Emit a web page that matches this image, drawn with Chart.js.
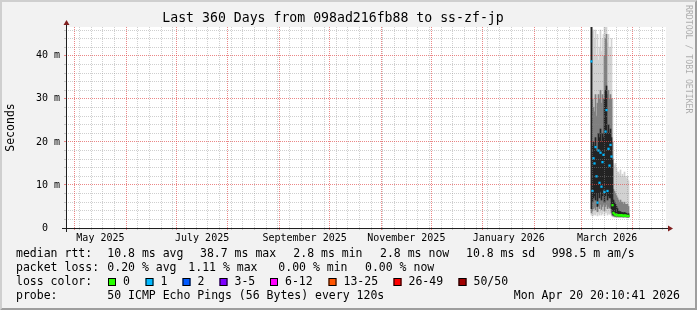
<!DOCTYPE html>
<html>
<head>
<meta charset="utf-8">
<title>Last 360 Days from 098ad216fb88 to ss-zf-jp</title>
<script src="https://cdn.jsdelivr.net/npm/chart.js@4.4.1/dist/chart.umd.min.js"></script>
<style>
  html, body { margin: 0; padding: 0; background: #f2f2f2; overflow: hidden; }
  canvas { display: block; }
</style>
</head>
<body>
<canvas id="smoke" width="697" height="310"></canvas>
<script>
// sample times, in days since the graph start (Apr 25 2025 20:10:41), one rrd row each
const sampleDays = [315.3, 315.9, 316.5, 317.1, 317.7, 318.3, 318.9, 319.5, 320.1, 320.7,
  321.3, 321.9, 322.5, 323.1, 323.7, 324.3, 324.9, 325.5, 326.1, 326.7,
  327.3, 327.9, 328.5, 329.1, 329.7, 330.3, 330.9, 331.5, 332.1, 332.7,
  333.3, 333.9, 334.5, 335.1, 335.7, 336.3, 336.9, 337.5];

// median rtt in ms and lost pings (of 50) per row
const medianRtt = [38.7, 8.6, 16.2, 15.0, 18.8, 12.0, 5.9, 18.0, 10.5, 17.5,
  9.6, 15.3, 17.0, 8.4, 22.4, 27.4, 8.6, 18.4, 14.5, 19.3,
  16.6, 5.3, 3.5, 3.2, 3.0, 3.1, 3.0, 2.9, 3.0, 2.9,
  3.0, 2.9, 2.8, 2.9, 2.9, 2.8, 2.8, 2.8];
const lostPings = [1, 1, 1, 1, 1, 1, 1, 1, 1, 1,
  1, 1, 1, 1, 1, 1, 1, 1, 1, 1,
  1, 0, 0, 0, 0, 0, 0, 0, 0, 0,
  0, 0, 0, 0, 0, 0, 0, 0];

// smoke: spread of the 50 pings (ms), outer / middle / core bands
const outerLo = [3.0, 2.8, 3.0, 3.2, 3.0, 3.5, 2.8, 3.4, 3.0, 3.6,
  3.0, 3.3, 3.8, 2.9, 3.5, 3.6, 3.0, 3.4, 3.2, 3.3,
  2.9, 2.6, 2.6, 2.5, 2.5, 2.5, 2.5, 2.4, 2.4, 2.4,
  2.5, 2.4, 2.4, 2.4, 2.4, 2.4, 2.4, 2.4];
const outerHi = [47, 46, 46, 44, 46, 40, 45, 39, 42, 46,
  41, 44, 45, 47, 47, 47, 43, 45, 42, 42,
  44, 30, 15, 14.5, 15, 14, 13, 13, 12.5, 13.5,
  12, 12.5, 12, 13, 12, 11.5, 12, 11];
const midLo = [3.5, 4.0, 4.5, 4.8, 4.2, 5.0, 3.8, 5.2, 4.5, 5.5,
  4.3, 5.0, 5.5, 4.0, 5.0, 5.5, 4.5, 5.0, 4.6, 4.8,
  3.6, 2.9, 2.8, 2.7, 2.7, 2.7, 2.6, 2.6, 2.6, 2.6,
  2.6, 2.6, 2.5, 2.6, 2.6, 2.5, 2.5, 2.5];
const midHi = [47, 30, 28, 27, 31, 26, 29, 31, 30, 32,
  29, 31, 30, 40, 44, 45, 31, 32, 30, 31,
  30, 20, 9, 8.5, 8, 7.5, 7, 6.5, 6, 6.5,
  6, 6, 5.5, 6, 5.5, 5.5, 5.5, 5];
const coreLo = [4.5, 6.0, 7.0, 7.5, 6.5, 8.0, 5.0, 8.0, 7.0, 8.5,
  6.5, 7.5, 9.0, 6.0, 7.5, 8.0, 6.5, 7.5, 7.0, 7.0,
  4.5, 3.2, 3.0, 2.9, 2.8, 2.9, 2.8, 2.8, 2.8, 2.7,
  2.8, 2.7, 2.7, 2.7, 2.7, 2.7, 2.6, 2.6];
const coreHi = [47, 19, 20, 19, 21, 18, 18, 22, 21, 23,
  20, 22, 21, 30, 32, 33, 22, 24, 22, 23,
  21, 16, 6.5, 6.0, 5.5, 5.0, 4.5, 4.0, 3.8, 3.8,
  3.6, 3.6, 3.5, 3.6, 3.5, 3.4, 3.4, 3.3];

const monthLabels = ['May 2025', 'July 2025', 'September 2025', 'November 2025', 'January 2026', 'March 2026'];
const labelMonths = [[2025, 4], [2025, 6], [2025, 8], [2025, 10], [2026, 0], [2026, 2]];
const yMajorTicks = [0, 10, 20, 30, 40];
const yMajorLabels = ['0  ', '10 m', '20 m', '30 m', '40 m'];

const lossNames = ['0', '1', '2', '3-5', '6-12', '13-25', '26-49', '50/50'];
const lossColors = ['#26ff00', '#00b8ff', '#0059ff', '#7e00ff', '#ff00ff', '#ff5500', '#ff0000', '#a10000'];

const rttStats = ['10.8 ms avg', '38.7 ms max', '2.8 ms min', '2.8 ms now', '10.8 ms sd', '998.5 m am/s'];
const lossStats = ['0.20 % avg', '1.11 % max', '0.00 % min', '0.00 % now'];
const probeText = '50 ICMP Echo Pings (56 Bytes) every 120s';
const stampText = 'Mon Apr 20 20:10:41 2026';

const MONO = '"DejaVu Sans Mono", monospace';
const GRID = 'rgba(140,140,140,0.42)';
const MGRID = 'rgba(225,70,70,0.65)';
const Y_MAX = 46.7;

// time grid: month starts (major), sundays (minor), labels mid month
const startMs = Date.UTC(2025, 3, 25, 20, 10, 41);
function dayOf(y, m, d) { return (Date.UTC(y, m, d) - startMs) / 86400000; }

const monthStarts = [];
for (let m = 4; m < 16; m++) monthStarts.push(dayOf(2025, m, 1));
const sundays = [];
for (let d = dayOf(2025, 4, 4); d <= 360; d += 7) {
  if (!monthStarts.some(v => Math.abs(v - d) < 0.01)) sundays.push(d);
}
const labelDays = labelMonths.map(ym => (dayOf(ym[0], ym[1], 1) + dayOf(ym[0], ym[1] + 1, 1)) / 2);

const yMinorTicks = [];
for (let v = 2; v < Y_MAX; v += 2) if (v % 10 !== 0) yMinorTicks.push(v);

function lossColor(n) {
  if (n <= 2) return lossColors[n];
  if (n <= 5) return lossColors[3];
  if (n <= 12) return lossColors[4];
  if (n <= 25) return lossColors[5];
  if (n < 50) return lossColors[6];
  return lossColors[7];
}

function band(lo, hi) {
  return sampleDays.map((d, i) => ({ x: d, y: [lo[i], hi[i]] }));
}

const rrdFrame = {
  id: 'rrdFrame',
  beforeDraw(chart) {
    const { ctx, width: W, height: H, chartArea: a } = chart;
    ctx.save();
    ctx.fillStyle = '#f2f2f2';
    ctx.fillRect(0, 0, W, H);
    // 3d border
    ctx.fillStyle = '#cfcfcf';
    ctx.beginPath();
    ctx.moveTo(0, H); ctx.lineTo(2, H - 2); ctx.lineTo(2, 2);
    ctx.lineTo(W - 2, 2); ctx.lineTo(W, 0); ctx.lineTo(0, 0);
    ctx.closePath(); ctx.fill();
    ctx.fillStyle = '#9e9e9e';
    ctx.beginPath();
    ctx.moveTo(2, H - 2); ctx.lineTo(W - 2, H - 2); ctx.lineTo(W - 2, 2);
    ctx.lineTo(W, 0); ctx.lineTo(W, H); ctx.lineTo(0, H);
    ctx.closePath(); ctx.fill();
    ctx.fillStyle = '#ffffff';
    ctx.fillRect(a.left, a.top, a.right - a.left, a.bottom - a.top);
    ctx.restore();
  },
  afterDraw(chart) {
    const { ctx, chartArea: a } = chart;
    ctx.save();
    // axes with arrows
    ctx.strokeStyle = '#1f1f1f';
    ctx.lineWidth = 1;
    ctx.beginPath();
    ctx.moveTo(a.left - 4, a.bottom + 0.5); ctx.lineTo(a.right + 4, a.bottom + 0.5);
    ctx.moveTo(a.left + 0.5, a.bottom + 4); ctx.lineTo(a.left + 0.5, a.top - 4);
    ctx.stroke();
    ctx.fillStyle = '#801f1f';
    ctx.beginPath();
    ctx.moveTo(a.right + 2, a.bottom - 2.5); ctx.lineTo(a.right + 2, a.bottom + 3.5); ctx.lineTo(a.right + 7, a.bottom + 0.5);
    ctx.closePath(); ctx.fill();
    ctx.beginPath();
    ctx.moveTo(a.left - 2.5, a.top - 2); ctx.lineTo(a.left + 3.5, a.top - 2); ctx.lineTo(a.left + 0.5, a.top - 7);
    ctx.closePath(); ctx.fill();

    // legend block
    ctx.font = '11.5px ' + MONO;
    ctx.fillStyle = '#000';
    ctx.textBaseline = 'middle';
    ctx.textAlign = 'left';
    ctx.fillText('median rtt:', 16, 254);
    [107.3, 200, 293.3, 380, 466, 551.7].forEach((x, i) => ctx.fillText(rttStats[i], x, 254));
    ctx.fillText('packet loss:', 16, 268);
    [107.3, 188.3, 278.3, 365].forEach((x, i) => ctx.fillText(lossStats[i], x, 268));
    ctx.fillText('loss color:', 16, 282);
    [108, 145.5, 182.5, 219.5, 270, 328.5, 393.5, 458.5].forEach((x, i) => {
      ctx.fillStyle = lossColors[i];
      ctx.fillRect(x, 278, 8, 8);
      ctx.strokeStyle = '#000';
      ctx.strokeRect(x + 0.5, 278.5, 7, 7);
      ctx.fillStyle = '#000';
      ctx.fillText(lossNames[i], x + 15, 282);
    });
    ctx.fillText('probe:', 16, 296);
    ctx.fillText(probeText, 107.3, 296);
    ctx.textAlign = 'right';
    ctx.fillText(stampText, 680, 296);

    // watermark
    ctx.translate(688.5, 5);
    ctx.rotate(Math.PI / 2);
    ctx.textAlign = 'left';
    ctx.font = '8.2px ' + MONO;
    ctx.fillStyle = 'rgba(0,0,0,0.3)';
    ctx.fillText('RRDTOOL / TOBI OETIKER', 0, 0);
    ctx.restore();
  }
};

// a grid-only axis: fixed ticks, no labels, no room taken
function gridAxis(axis, pos, min, max, values, color, z) {
  return {
    type: 'linear', axis: axis, position: pos, min: min, max: max, offset: false, weight: 0,
    afterFit(s) { if (axis === 'x') s.height = 0; else s.width = 0; },
    afterBuildTicks(s) { s.ticks = values.map(v => ({ value: v })); },
    grid: { offset: false, z: z, color: color, tickColor: color, tickLength: 2 },
    border: { display: false, dash: [1, 1] },
    ticks: { display: false, autoSkip: false }
  };
}

const barBase = { type: 'bar', xAxisID: 'x', yAxisID: 'y', grouped: false, barThickness: 1, borderWidth: 0, borderSkipped: false };

new Chart(document.getElementById('smoke'), {
  type: 'bar',
  data: {
    datasets: [
      { label: 'median', type: 'scatter', xAxisID: 'x', yAxisID: 'y', order: 0,
        data: sampleDays.map((d, i) => ({ x: d, y: medianRtt[i] })),
        pointStyle: 'rect', pointRadius: 1.6, pointBorderWidth: 0,
        pointBackgroundColor: lostPings.map(lossColor), showLine: false },
      Object.assign({}, barBase, { label: 'core', order: 1, data: band(coreLo, coreHi), backgroundColor: '#242424' }),
      Object.assign({}, barBase, { label: 'mid', order: 2, data: band(midLo, midHi), backgroundColor: '#808080' }),
      Object.assign({}, barBase, { label: 'outer', order: 3, data: band(outerLo, outerHi), backgroundColor: '#d2d2d2' })
    ]
  },
  plugins: [rrdFrame],
  options: {
    responsive: false,
    animation: false,
    devicePixelRatio: 1,
    layout: { padding: { left: 0, right: 31, top: 0, bottom: 0 } },
    plugins: {
      legend: { display: false },
      tooltip: { enabled: false },
      title: {
        display: true,
        text: 'Last 360 Days from 098ad216fb88 to ss-zf-jp',
        color: '#000',
        font: { family: MONO, size: 13.2, weight: 'normal', lineHeight: '16px' },
        padding: { top: 11, bottom: 0 }
      }
    },
    scales: {
      x: {
        type: 'linear',
        position: 'bottom',
        weight: 1,
        min: 0,
        max: 360,
        offset: false,
        afterFit(s) { s.height = 82; },
        afterBuildTicks(s) { s.ticks = labelDays.map(v => ({ value: v })); },
        grid: { display: false, drawTicks: false },
        border: { display: false },
        ticks: {
          autoSkip: false,
          maxRotation: 0,
          padding: 4,
          color: '#000',
          font: { family: MONO, size: 10 },
          callback: (v, i) => monthLabels[i]
        }
      },
      xWeek: gridAxis('x', 'bottom', 0, 360, sundays, GRID, 1),
      xMonth: gridAxis('x', 'bottom', 0, 360, monthStarts, MGRID, 2),
      y: {
        type: 'linear',
        position: 'left',
        weight: 1,
        min: 0,
        max: Y_MAX,
        afterFit(s) { s.width = 66; },
        afterBuildTicks(s) { s.ticks = yMajorTicks.map(v => ({ value: v })); },
        grid: { z: 2, tickLength: 2, color: MGRID, tickColor: MGRID },
        border: { display: false, dash: [1, 1] },
        ticks: {
          autoSkip: false,
          padding: 4,
          color: '#000',
          font: { family: MONO, size: 10 },
          callback: (v, i) => yMajorLabels[i]
        },
        title: {
          display: true,
          text: 'Seconds',
          color: '#000',
          font: { family: MONO, size: 11.5 },
          padding: { top: 4, bottom: 0 }
        }
      },
      yMinor: gridAxis('y', 'left', 0, Y_MAX, yMinorTicks, GRID, 1)
    }
  }
});
</script>
</body>
</html>
